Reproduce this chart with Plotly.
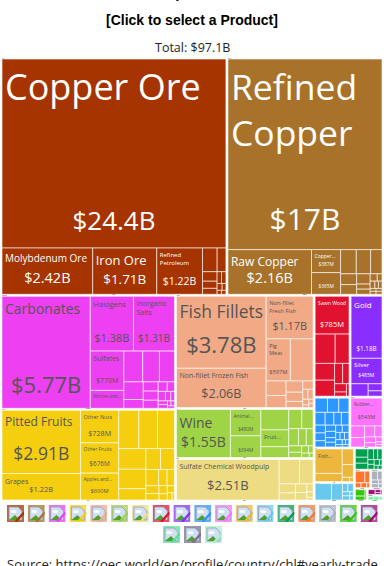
import plotly.graph_objects as go
import base64

group_colors = ["#A63400", "#A8722A", "#ED40F2", "#F5CF0F", "#F2AA86", "#A0D447", "#EDDC82", "#E0122F", "#892EFF",
                "#2E97FF", "#FF73FF", "#EDB73E", "#69C8ED", "#019E4F", "#FF7530", "#ACB0C0", "#33C70E", "#A00B78", "#7FF0AA"]
group_text = ["#FFFFFF", "#FFFFFF", "#555555", "#555555", "#555555", "#555555", "#555555", "#FFFFFF", "#FFFFFF",
              "#555555", "#555555", "#555555", "#555555", "#FFFFFF", "#555555", "#555555", "#555555", "#FFFFFF", "#555555"]

# (name, value in $B, value label, label font, value font, label text if it differs)
groups = {
 "Ores": [("Copper Ore", 24.4, "$24.4B", 36, 26), ("Molybdenum Ore", 2.42, "$2.42B", 10, 14.5), ("Iron Ore", 1.71, "$1.71B", 13, 13.5),
          ("Refined Petroleum", 1.22, "$1.22B", 6, 10.5, "Refined<br>Petroleum"), ("o1", .2), ("o2", .12), ("o3", .08), ("o4", .06), ("o5", .05), ("o6", .03), ("o7", .03), ("o8", .02), ("o9", .015), ("o10", .01), ("o11", .01)],
 "Copper": [("Refined Copper", 17.0, "$17B", 35.5, 30, "Refined<br>Copper"), ("Raw Copper", 2.16, "$2.16B", 12, 14.5), ("Copper...", .387, "$387M", 5, 4.8), ("Copper Wire", .365, "$365M", 1, 4.8),
            ("b1", .22), ("b2", .2), ("b3", .16), ("b4", .1), ("b5", .09), ("b6", .08), ("b7", .04), ("b8", .04), ("b9", .03), ("b10", .02), ("b11", .02), ("b12", .015), ("b13", .015), ("b14", .01), ("b15", .01), ("b16", .01), ("b17", .01)],
 "Chemicals": [("Carbonates", 5.77, "$5.77B", 14, 22), ("Halogens", 1.38, "$1.38B", 7.5, 11), ("Inorganic Salts", 1.31, "$1.31B", 7, 10, "Inorganic<br>Salts"), ("Sulfates", .77, "$770M", 7, 7),
               ("Nitrites and...", .35, "", 5, 1), ("c1", .34), ("c2", .3), ("c3", .27), ("c4", .2), ("c5", .1), ("c6", .08), ("c7", .08), ("c8", .07), ("c9", .05), ("c10", .04), ("c11", .04), ("c12", .03), ("c13", .02), ("c14", .02), ("c15", .02), ("c16", .01), ("c17", .01), ("c18", .01)],
 "Fruits": [("Pitted Fruits", 2.91, "$2.91B", 12, 17.5), ("Grapes", 1.22, "$1.22B", 7, 7.5), ("Other Nuts", .728, "$728M", 5.5, 7.2), ("Other Fruits", .676, "$676M", 5, 6.4), ("Apples and...", .6, "$600M", 4.8, 5.7),
            ("f1", .45), ("f2", .42), ("f3", .38), ("f4", .33), ("f5", .18), ("f6", .18), ("f7", .31), ("f8", .17), ("f9", .12), ("f10", .08), ("f11", .07), ("f12", .06), ("f13", .05), ("f14", .04), ("f15", .03), ("f16", .03), ("f17", .02), ("f18", .01)],
 "Animal": [("Fish Fillets", 3.78, "$3.78B", 22, 22), ("Non-fillet Frozen Fish", 2.06, "$2.06B", 7, 12.5), ("Non-fillet Fresh Fish", 1.17, "$1.17B", 5.8, 10.8, "Non-fillet<br>Fresh Fish"), ("Pig Meat", .597, "$597M", 5.5, 5.8, "Pig<br>Meat"), ("Poultry", .56, "", 1, 1),
            ("a1", .17), ("a2", .14), ("a3", .11), ("a4", .09), ("a5", .06), ("a6", .05), ("a7", .03), ("a8", .03), ("a9", .02), ("a10", .01), ("a11", .01), ("a12", .01)],
 "Food": [("Wine", 1.55, "$1.55B", 14, 14), ("Animal...", .48, "$480M", 5, 4.7), ("Animal Food", .394, "$394M", 1, 4.7), ("g1", .34), ("Fruit...", .28, "", 6, 1),
          ("g2", .18), ("g3", .15), ("g4", .13), ("g5", .1), ("g6", .08), ("g7", .07), ("g8", .05), ("g9", .04), ("g10", .03), ("g11", .02), ("g12", .02), ("g13", .01)],
 "Paper": [("Sulfate Chemical Woodpulp", 2.51, "$2.51B", 7, 13), ("p1", .3), ("p2", .2), ("p3", .09), ("p4", .07), ("p5", .06), ("p6", .05), ("p7", .03), ("p8", .02), ("p9", .01)],
 "Wood": [("Sawn Wood", .785, "$785M", 5.7, 7.5), ("w1", .36), ("w2", .25), ("w3", .2), ("w4", .19), ("w5", .1), ("w6", .08), ("w7", .06), ("w8", .03), ("w9", .02)],
 "Metals": [("Gold", 1.18, "$1.18B", 8, 6.3), ("Silver", .485, "$485M", 6, 5), ("m1", .13), ("m2", .06), ("m3", .045)],
 "Machines": [("k%d" % i, v) for i, v in enumerate([.11, .1, .09, .08, .07, .06, .06, .05, .05, .04, .04, .04, .03, .03, .03, .03, .02, .02, .02, .02, .01, .01, .01, .01])],
 "Plastics": [("Rubber...", .543, "$543M", 4.5, 5.5), ("l1", .1), ("l2", .08), ("l3", .07), ("l4", .05), ("l5", .04), ("l6", .03), ("l7", .02), ("l8", .01), ("l9", .01)],
 "Fish": [("Fish...", .42, "", 5.5, 1), ("s1", .14), ("s2", .11), ("s3", .09), ("s4", .02), ("s5", .01)],
 "Transport": [("t1", .18), ("t2", .12), ("t3", .03), ("t4", .03), ("t5", .02), ("t6", .02), ("t7", .01), ("t8", .01)],
 "Minerals": [("n%d" % i, v) for i, v in enumerate([.07, .05, .05, .04, .03, .03, .02, .02, .02, .01, .01, .01])],
 "Textiles": [("x1", .08), ("x2", .04), ("x3", .02), ("x4", .02), ("x5", .01)],
 "Instruments": [("i1", .04), ("i2", .03), ("i3", .02), ("i4", .02), ("i5", .01), ("i6", .01)],
 "Vegetable": [("v1", .05), ("v2", .03), ("v3", .01)],
 "Misc": [("z1", .03), ("z2", .015), ("z3", .01), ("z4", .005)],
 "Footwear": [("y1", .02), ("y2", .02), ("y3", .01)],
}
icon_colors = group_colors[:18] + ["#5CE0A0", "#7E6F90", "#A8F0D0"]

ids, labels, parents, values, colors = [], [], [], [], []
top_text, top_size, bot_text, bot_size, txt_color = [], [], [], [], []
for gi, (g, items) in enumerate(groups.items()):
    ids.append(g); labels.append(g); parents.append(""); values.append(sum(t[1] for t in items)); colors.append("#FFFFFF")
    top_text.append(""); top_size.append(1); bot_text.append(""); bot_size.append(1); txt_color.append("#000")
    for t in items:
        ids.append(g + "/" + t[0]); labels.append(t[0]); parents.append(g); values.append(t[1]); colors.append(group_colors[gi])
        txt_color.append(group_text[gi])
        if len(t) > 2:
            shown = t[5] if len(t) > 5 else t[0]
            top_text.append(shown if t[3] > 1 else ""); top_size.append(t[3])
            if t[2]:
                bot_text.append(f'<span style="font-size:{t[4]}px">{t[2]}</span><br> ')
                bot_size.append(max(t[4] * 0.36, 1))
            else:
                bot_text.append(""); bot_size.append(1)
        else:
            top_text.append(""); top_size.append(1); bot_text.append(""); bot_size.append(1)

fig = go.Figure()
common = dict(ids=ids, labels=labels, parents=parents, values=values, branchvalues="total", sort=True,
              domain=dict(x=[0, 1], y=[1-502/566, 1-57/566]), pathbar=dict(visible=False),
              hoverinfo="skip", textinfo="text", tiling=dict(squarifyratio=1.618, pad=0))
fig.add_trace(go.Treemap(text=top_text, textposition="top left", textfont=dict(family="Open Sans", size=top_size, color=txt_color),
                         marker=dict(colors=colors, pad=dict(t=1, l=1, r=1, b=1), line=dict(width=1, color="rgba(255,255,255,0.6)")), **common))
fig.add_trace(go.Treemap(text=bot_text, textposition="bottom center", textfont=dict(family="Open Sans", size=bot_size, color=txt_color),
                         marker=dict(colors=["rgba(0,0,0,0)"] * len(ids), pad=dict(t=1, l=1, r=1, b=1), line=dict(width=0)), **common))

def icon(c):
    s = ('<svg xmlns="http://www.w3.org/2000/svg" width="17" height="17">'
         f'<rect width="17" height="17" fill="{c}" opacity="0.75"/>'
         '<path d="M2 2 H11 L15 6 V15 H2 Z" fill="#CFE0F5" stroke="#8A94A0" stroke-width="0.7"/>'
         '<ellipse cx="6.5" cy="6.5" rx="3" ry="1.6" fill="#FFFFFF"/>'
         '<path d="M2 15 L8 10 L13 15 Z" fill="#4FA02A"/>'
         f'<path d="M8.5 17 L17 7.5" stroke="{c}" stroke-width="2.4"/></svg>')
    return "data:image/svg+xml;base64," + base64.b64encode(s.encode()).decode()

W, H = 384, 566
images = []
for i, c in enumerate(icon_colors):
    if i < 18:
        x0 = 7 + i * 20.8; y0 = 505
    else:
        x0 = 163 + (i - 18) * 21; y0 = 526
    images.append(dict(source=icon(c), xref="paper", yref="paper", x=x0 / W, y=1 - y0 / H, sizex=17 / W, sizey=17 / H, xanchor="left", yanchor="top", layer="above"))

def note(text, y, size, family, bold=False):
    return dict(text=f"<b>{text}</b>" if bold else text, xref="paper", yref="paper", x=0.5, y=1 - y / H, yanchor="middle", showarrow=False,
                font=dict(size=size, family=family, color="#000000" if bold else "#222222"))

fig.update_layout(width=W, height=H, margin=dict(l=0, r=0, t=0, b=0), paper_bgcolor="white", showlegend=False, images=images,
                  annotations=[note("Chile Exports in 2021", -7, 15, "Liberation Sans", True),
                               note("[Click to select a Product]", 20, 14, "Liberation Sans", True),
                               note("Total: $97.1B", 47, 12.5, "Open Sans"),
                               note("Source: https://oec.world/en/profile/country/chl#yearly-trade", 564, 13, "Open Sans")])
fig.write_html("out.html", config=dict(displayModeBar=False), post_script="document.body.style.margin='0';document.body.style.overflow='hidden';")
